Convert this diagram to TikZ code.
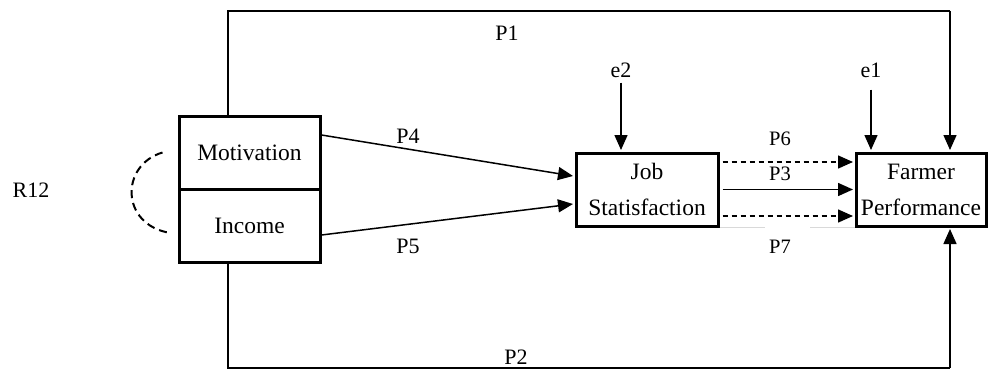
\documentclass[tikz,border=0pt]{standalone}
\usepackage{fontspec}
\setmainfont{Liberation Serif}
\usetikzlibrary{arrows.meta}
\begin{document}
\begin{tikzpicture}[x=1pt,y=-1pt,
  box/.style={draw,line width=3pt,inner sep=0pt,align=center,
    font=\fontsize{23.5}{36}\selectfont},
  lbl/.style={inner sep=0pt,font=\fontsize{22}{24}\selectfont},
  slbl/.style={inner sep=0pt,font=\fontsize{20.5}{22}\selectfont},
  conn/.style={line width=1.5pt},
  arr/.style={conn,-{Triangle[length=15pt,width=13pt]}},
  darr/.style={arr,dash pattern=on 5pt off 4pt},
  ]
\useasboundingbox (0,0) rectangle (988,369);
% boxes
\node[box,minimum width=141pt,minimum height=73pt] (mot) at (249.5,152.5) {Motivation};
\node[box,minimum width=141pt,minimum height=73pt] (inc) at (249.5,225.5) {Income};
\node[box,minimum width=142pt,minimum height=73pt] (job) at (647,189.5) {Job\\Statisfaction};
\node[box,minimum width=130pt,minimum height=73pt] (far) at (921,189.5) {Farmer\\Performance};
% labels
\node[lbl] (e2) at (621,70) {e2};
\node[lbl] (e1) at (871,70) {e1};
\node[lbl] (p1) at (507,33) {P1};
\node[lbl] (p2) at (516,357) {P2};
\node[lbl] (p4) at (408,136) {P4};
\node[lbl] (p5) at (408,246) {P5};
\node[slbl] (p6) at (780,139) {P6};
\node[slbl] (p3) at (780,174) {P3};
\node[slbl] (p7) at (780,247) {P7};
\node[lbl] (r12) at (31,190) {R12};
% corner coordinates
\coordinate (tl) at (228,11);
\coordinate (tr) at (950,11);
\coordinate (bl) at (228,368);
\coordinate (br) at (950,368);
% P1 and P2
\draw[conn] (mot.north -| tl) -- (tl) -- (tr);
\draw[arr] (tr) -- ([yshift=1.5pt]far.north -| tr);
\draw[conn] (inc.south -| bl) -- (bl) -- (br);
\draw[arr] (br) -- ([yshift=-1.5pt]far.south -| br);
% error terms
\draw[arr] ([yshift=-5pt]e2.south) -- ([yshift=1.5pt]e2.south |- job.north);
\draw[arr] ([yshift=-12pt]e1.south) -- ([yshift=1.5pt]e1.south |- far.north);
% P4, P5
\draw[arr] ([yshift=17.5pt]mot.east) -- ([xshift=-1.5pt,yshift=13.5pt]job.west);
\draw[arr] ([yshift=-9.5pt]inc.east) -- ([xshift=-1.5pt,yshift=-14.5pt]job.west);
% P6, P3, P7
\draw[darr] ([xshift=3pt,yshift=27.5pt]job.east) -- ([xshift=-1.5pt,yshift=27.5pt]far.west);
\draw[arr] ([xshift=3pt]job.east) -- ([xshift=-1.5pt]far.west);
\draw[darr] ([xshift=3pt,yshift=-26.5pt]job.east) -- ([xshift=-1.5pt,yshift=-26.5pt]far.west);
% grey traces
\draw[black!15,line width=1.5pt] (job.south east) -- ++(45,0);
\draw[black!15,line width=1.5pt] (far.south west) -- ++(-45,0);
% R12 correlation arc
\draw[line width=2pt,dash pattern=on 8pt off 5pt]
  ([xshift=-15pt]mot.west) .. controls (120,165) and (120,225) .. ([xshift=-7pt,yshift=-7.5pt]inc.west);
\end{tikzpicture}
\end{document}
